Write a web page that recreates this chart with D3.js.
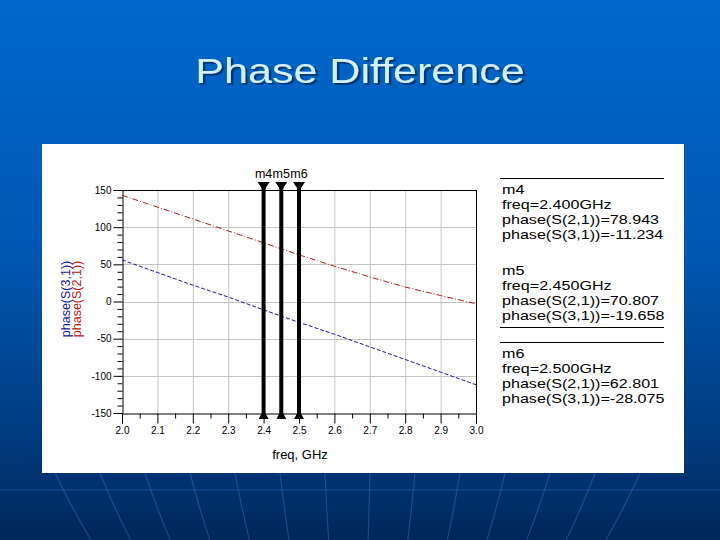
<!DOCTYPE html>
<html><head><meta charset="utf-8">
<script src="https://cdn.jsdelivr.net/npm/d3@7"></script>
<style>html,body{margin:0;padding:0;background:#0060c0;}svg{display:block;}</style>
</head><body>
<svg id="c" width="720" height="540"></svg>
<script>
// ---- data ----
const freqs = [2.0, 2.1, 2.2, 2.3, 2.4, 2.45, 2.5, 2.6, 2.7, 2.8, 2.9, 3.0];
const phaseS21 = [143, 127, 111, 95, 78.943, 70.807, 62.801, 47.5, 33, 19.5, 8, -3];
const phaseS31 = [56, 39, 22, 6, -11.234, -19.658, -28.075, -44, -61, -78, -95, -112];
const markerNames = ["m4", "m5", "m6"];
const markerFreqs = [2.40, 2.45, 2.50];
const markerS21 = [78.943, 70.807, 62.801];
const markerS31 = [-11.234, -19.658, -28.075];
const xTicks = [2.0, 2.1, 2.2, 2.3, 2.4, 2.5, 2.6, 2.7, 2.8, 2.9, 3.0];
const yTicks = [-150, -100, -50, 0, 50, 100, 150];
const titleText = "Phase Difference";
const xLabel = "freq, GHz";
const yLabels = ["phase(S(3,1))", "phase(S(2,1))"];

const svg = d3.select("#c");
const FONT = "'Liberation Sans', Arial, sans-serif";

// ---- background ----
const defs = svg.append("defs");
const g1 = defs.append("linearGradient").attr("id","bg").attr("x1",0).attr("y1",0).attr("x2",0).attr("y2",1);
g1.append("stop").attr("offset",0).attr("stop-color","#0068cc");
g1.append("stop").attr("offset",0.45).attr("stop-color","#0058b4");
g1.append("stop").attr("offset",0.8).attr("stop-color","#003c80");
g1.append("stop").attr("offset",1).attr("stop-color","#00275a");
svg.append("rect").attr("width",720).attr("height",540).attr("fill","url(#bg)");
const sh = defs.append("filter").attr("id","shadow").attr("x","-10%").attr("y","-30%").attr("width","120%").attr("height","160%");
sh.append("feDropShadow").attr("dx",2).attr("dy",2).attr("stdDeviation",0.6)
  .attr("flood-color","#00346e").attr("flood-opacity",0.9);

// decorative perspective lines below the panel
const deco = svg.append("g").attr("stroke","#2f78c8").attr("stroke-opacity",0.45).attr("stroke-width",1.2).attr("fill","none");
d3.range(-300, 330, 45).forEach(d => {
  deco.append("path").attr("d", `M${355 + d},473 Q${355 + d*0.95},505 ${355 + d*0.88},540`);
});
deco.append("line").attr("x1",0).attr("x2",720).attr("y1",490).attr("y2",490);

// ---- title ----
svg.append("text").attr("transform","translate(360,83) scale(1.23,1)").attr("text-anchor","middle")
  .attr("font-family",FONT).attr("font-size",35).attr("fill","#d2f2ff")
  .attr("filter","url(#shadow)").text(titleText);

// ---- white panel ----
svg.append("rect").attr("x",42).attr("y",144).attr("width",642).attr("height",329).attr("fill","#ffffff");

// ---- scales ----
const x = d3.scaleLinear().domain([2.0, 3.0]).range([122, 476]);
const y = d3.scaleLinear().domain([-150, 150]).range([413, 190]);

// grid
const grid = svg.append("g").attr("stroke","#c4c4c4").attr("stroke-width",1);
xTicks.slice(1, -1).forEach(v => grid.append("line").attr("x1",x(v)+0.5).attr("x2",x(v)+0.5).attr("y1",y(150)).attr("y2",y(-150)));
yTicks.slice(1, -1).forEach(v => grid.append("line").attr("x1",x(2.0)).attr("x2",x(3.0)).attr("y1",Math.round(y(v))+0.5).attr("y2",Math.round(y(v))+0.5));

// axes
const minorY = d3.range(-150, 151, 10).filter(v => v % 50 !== 0);
const minorX = d3.range(0, 10).map(i => +(2.05 + i*0.1).toFixed(2));

svg.append("g").attr("transform","translate(122.5,0)")
  .call(d3.axisLeft(y).tickValues(yTicks).tickSize(9).tickPadding(2).tickFormat(d => String(d)));
svg.append("g").attr("transform","translate(122.5,0)")
  .call(d3.axisLeft(y).tickValues(minorY).tickSize(5).tickFormat(""))
  .select(".domain").remove();
svg.append("g").attr("transform","translate(0,413.5)")
  .call(d3.axisBottom(x).tickValues(xTicks).tickSize(10).tickPadding(3).tickFormat(d => d.toFixed(1)));
svg.append("g").attr("transform","translate(0,413.5)")
  .call(d3.axisBottom(x).tickValues(minorX).tickSize(5).tickFormat(""))
  .select(".domain").remove();
svg.selectAll(".tick text").attr("font-family",FONT).attr("font-size",10).attr("fill","#000");
svg.selectAll(".domain, .tick line").attr("stroke","#000");
// top and right frame
svg.append("line").attr("x1",x(2.0)).attr("x2",x(3.0)+0.5).attr("y1",190.5).attr("y2",190.5).attr("stroke","#000");
svg.append("line").attr("x1",x(3.0)+0.5).attr("x2",x(3.0)+0.5).attr("y1",190).attr("y2",413.5).attr("stroke","#000");

// axis labels
svg.append("text").attr("x",300).attr("y",459).attr("text-anchor","middle")
  .attr("font-family",FONT).attr("font-size",13).attr("fill","#000").text(xLabel);
const ylc = ["#1a1a9a", "#c01818"];
yLabels.forEach((t, i) => {
  svg.append("text").attr("transform",`translate(${70 + i*10.5},299) rotate(-90)`)
    .attr("text-anchor","middle").attr("font-family",FONT).attr("font-size",12.5)
    .attr("fill",ylc[i]).text(t);
});

// ---- series ----
const line = d3.line().x(d => x(d[0])).y(d => y(d[1]));
svg.append("path").datum(freqs.map((f,i) => [f, phaseS21[i]]))
  .attr("d", line).attr("fill","none").attr("stroke","#a82020").attr("stroke-width",1)
  .attr("stroke-dasharray","6,2,1,2");
svg.append("path").datum(freqs.map((f,i) => [f, phaseS31[i]]))
  .attr("d", line).attr("fill","none").attr("stroke","#1c1c8c").attr("stroke-width",1)
  .attr("stroke-dasharray","4,2");

// ---- markers ----
const mk = svg.append("g");
markerFreqs.forEach((f, i) => {
  const mx = x(f);
  mk.append("line").attr("x1",mx).attr("x2",mx).attr("y1",184).attr("y2",416)
    .attr("stroke","#000").attr("stroke-width",4);
  mk.append("path").attr("d",`M${mx-6},182L${mx+6},182L${mx},191Z`).attr("fill","#000");
  mk.append("path").attr("d",`M${mx-5},419L${mx+5},419L${mx},410Z`).attr("fill","#000");
  mk.append("text").attr("x",mx).attr("y",178).attr("text-anchor","middle")
    .attr("font-family",FONT).attr("font-size",12.5).attr("fill","#000").text(markerNames[i]);
});

// ---- marker readouts ----
const blockY = [194, 275, 358];
const rd = svg.append("g");
[178, 327, 342].forEach(ly => rd.append("line").attr("x1",500).attr("x2",664)
  .attr("y1",ly+0.5).attr("y2",ly+0.5).attr("stroke","#000"));
markerNames.forEach((n, i) => {
  const rows = [n, `freq=${markerFreqs[i].toFixed(3)}GHz`,
    `phase(S(2,1))=${markerS21[i].toFixed(3)}`, `phase(S(3,1))=${markerS31[i].toFixed(3)}`];
  rows.forEach((t, j) => {
    rd.append("text").attr("transform",`translate(502,${blockY[i] + j*15}) scale(1.24,1)`)
      .attr("font-family",FONT).attr("font-size",13).attr("fill","#000").text(t);
  });
});
</script>
</body></html>
